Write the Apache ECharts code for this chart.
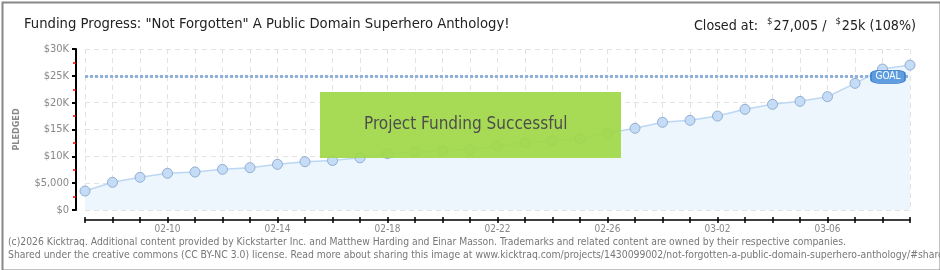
<!DOCTYPE html>
<html><head><meta charset="utf-8">
<script src="https://cdn.jsdelivr.net/npm/echarts@6/dist/echarts.min.js"></script>
<style>html,body{margin:0;padding:0;background:#fff}#c{width:940px;height:270px}</style>
</head><body><div id="c"></div>
<script>
var dates = ['02-07','02-08','02-09','02-10','02-11','02-12','02-13','02-14','02-15','02-16','02-17','02-18','02-19','02-20','02-21','02-22','02-23','02-24','02-25','02-26','02-27','02-28','03-01','03-02','03-03','03-04','03-05','03-06','03-07','03-08','03-09'];
var pledged = [3540,5160,6090,6840,7080,7580,7890,8510,9000,9220,9720,10500,10870,11050,11240,11920,12540,12920,13290,14290,15220,16340,16710,17510,18760,19690,20250,21120,23600,26270,27005];
var goal = 25000;
var yTickValues = [0,5000,10000,15000,20000,25000,30000];
var yTickLabels = ['$0','$5,000','$10K','$15K','$20K','$25K','$30K'];
var titleText = 'Funding Progress: "Not Forgotten" A Public Domain Superhero Anthology!';
var closedLabel = 'Closed at:';
var closedAmount = '27,005';
var goalAmount = '25k';
var percentText = '(108%)';
var footer1 = '(c)2026 Kicktraq. Additional content provided by Kickstarter Inc. and Matthew Harding and Einar Masson. Trademarks and related content are owned by their respective companies.';
var footer2 = 'Shared under the creative commons (CC BY-NC 3.0) license. Read more about sharing this image at www.kicktraq.com/projects/1430099002/not-forgotten-a-public-domain-superhero-anthology/#share';
var bannerText = 'Project Funding Successful';

var chart = echarts.init(document.getElementById('c'), null, {renderer:'canvas'});
var F = '"DejaVu Sans Condensed","DejaVu Sans",sans-serif';
var catAxisBase = {
  type:'category', data:dates, boundaryGap:false, offset:10, position:'bottom'
};
chart.setOption({
  animation:false,
  backgroundColor:'#fff',
  grid:{left:85, right:30, top:49, bottom:60},
  title:[
    {text:titleText, left:19, top:12, textStyle:{fontFamily:F, fontSize:14.7, fontWeight:'normal', color:'#222'}},
    {text:'{a|'+closedLabel+'}{s|$}{a|'+closedAmount+' /}{s|$}{a|'+goalAmount+' '+percentText+'}', right:19, top:12,
     textStyle:{fontWeight:'normal', rich:{
       a:{fontFamily:F, fontSize:14.2, fontWeight:'normal', color:'#222', verticalAlign:'bottom'},
       s:{fontFamily:F, fontSize:9.5, fontWeight:'normal', color:'#222', verticalAlign:'top', padding:[0,1,6,9]}
     }}}
  ],
  xAxis:[
    Object.assign({}, catAxisBase, {
      axisLine:{show:true, onZero:false, lineStyle:{color:'#000', width:1.5}},
      axisTick:{show:true, interval:0, length:3, lineStyle:{color:'#000', width:1.5}},
      axisLabel:{interval:function(i){return i%4===3;}, color:'#888', fontFamily:F, fontSize:10, margin:4},
      splitLine:{show:true, interval:0, lineStyle:{color:'#e2e2e2', type:[5,4], width:1}}
    }),
    Object.assign({}, catAxisBase, {
      axisLine:{show:false, onZero:false},
      axisTick:{show:true, inside:true, interval:0, length:3, lineStyle:{color:'#000', width:1.5}},
      axisLabel:{show:false},
      splitLine:{show:false}
    })
  ],
  yAxis:{
    type:'value', min:0, max:30000, interval:5000, offset:9,
    name:'PLEDGED', nameLocation:'middle', nameRotate:90, nameGap:55,
    nameTextStyle:{color:'#888', fontFamily:F, fontSize:9, fontWeight:'bold'},
    axisLine:{show:true, onZero:false, lineStyle:{color:'#000', width:2}},
    axisTick:{show:true, length:4, lineStyle:{color:'#000', width:2}},
    minorTick:{show:true, splitNumber:2, length:3, lineStyle:{color:'#e00', width:1.5}},
    axisLabel:{color:'#888', fontFamily:F, fontSize:11, margin:7,
      formatter:function(v){var i=yTickValues.indexOf(v);return i>=0?yTickLabels[i]:'';}},
    splitLine:{show:true, lineStyle:{color:'#e2e2e2', type:[5,4], width:1}}
  },
  series:[{
    type:'line', data:pledged, xAxisIndex:0,
    symbol:'circle', symbolSize:10,
    itemStyle:{color:'#c4dcf6', borderColor:'#93aed2', borderWidth:1},
    lineStyle:{color:'#bcd7f3', width:1.5},
    areaStyle:{color:'#edf5fd', opacity:1},
    markLine:{
      silent:true, symbol:'none',
      label:{show:false},
      lineStyle:{color:'#8fb1dc', type:[3,2], width:3},
      data:[{yAxis:goal}]
    },
    markPoint:{
      silent:true,
      data:[{coord:[dates.length-1, goal], symbol:'roundRect', symbolSize:[34,13], symbolOffset:[-22,1],
        itemStyle:{color:'#5d9de0', borderColor:'#3f7fca', borderWidth:1},
        label:{show:true, formatter:'GOAL', color:'#fff', fontFamily:F, fontSize:10, position:'inside'}}]
    },
    z:3
  }],
  graphic:[
    {type:'rect', left:320, top:92, shape:{width:301, height:66}, style:{fill:'rgba(160,216,70,0.92)'}, z:100},
    {type:'text', left:364, top:116, style:{text:bannerText, fill:'#4d4d4d', font:'17px '+F, textShadowColor:'#fff', textShadowOffsetX:1, textShadowOffsetY:1, textShadowBlur:0}, z:101},
    {type:'text', left:8, top:237, style:{text:footer1, fill:'#777', font:'10.3px '+F}},
    {type:'text', left:8, top:250, style:{text:footer2, fill:'#777', font:'10.35px '+F}},
    {type:'rect', left:0, top:0, shape:{x:1, y:1, width:938, height:268}, style:{fill:'none', stroke:'#888', lineWidth:2}, z:200}
  ]
});
</script></body></html>
